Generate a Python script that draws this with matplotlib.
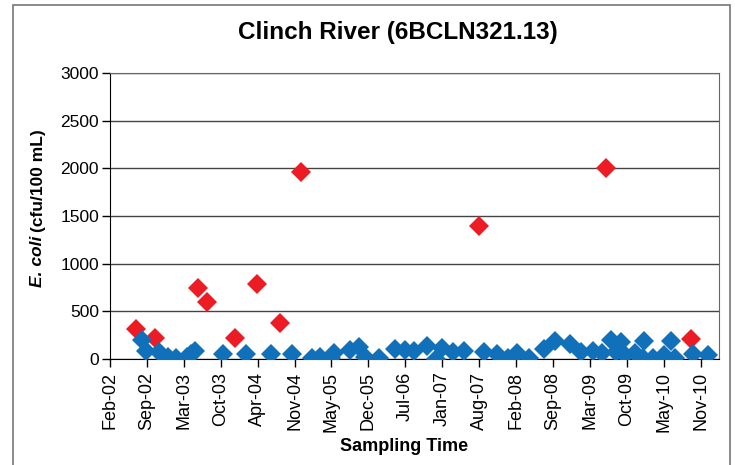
import pandas as pd
import matplotlib.pyplot as plt
from matplotlib.patches import Rectangle

# samples below / above the standard
blue_dates = ["2002-08-05", "2002-08-29", "2002-11-08", "2002-12-24", "2003-02-08",
              "2003-04-07", "2003-04-27", "2003-05-18", "2003-10-19", "2004-02-18",
              "2004-07-03", "2004-10-25", "2005-02-14", "2005-03-28", "2005-05-25",
              "2005-06-09", "2005-09-04", "2005-10-23", "2005-11-28", "2006-02-12",
              "2006-05-05", "2006-06-28", "2006-08-18", "2006-10-30", "2006-12-14",
              "2007-01-19", "2007-03-15", "2007-05-17", "2007-08-30", "2007-11-10",
              "2008-01-11", "2008-02-27", "2008-05-01", "2008-07-21", "2008-09-21",
              "2008-12-11", "2009-02-09", "2009-04-14", "2009-06-02", "2009-07-22",
              "2009-08-19", "2009-09-11", "2009-10-06", "2009-11-26", "2010-01-11",
              "2010-01-16", "2010-03-06", "2010-05-03", "2010-06-13", "2010-07-01",
              "2010-10-06", "2010-12-26"]
blue_vals = [199, 80, 70, 18, 10,
             24, 52, 84, 49, 49,
             49, 49, 7, 24, 7,
             60, 94, 129, 24, 14,
             105, 94, 87, 136, 5,
             119, 77, 87, 77, 49,
             14, 60, 14, 101, 192,
             157, 70, 87, 66, 199,
             77, 181, 42, 60, 7,
             192, 7, 42, 192, 7,
             52, 42]

red_dates = ["2002-07-02", "2002-10-15", "2003-06-05", "2003-07-21", "2003-12-22",
             "2004-04-21", "2004-08-24", "2004-12-15", "2007-08-06", "2009-06-21",
             "2010-09-25"]
red_vals = [311, 217, 748, 595, 217, 787, 374, 1965, 1400, 2000, 213]

tick_labels = ["Feb-02", "Sep-02", "Mar-03", "Oct-03", "Apr-04", "Nov-04", "May-05",
               "Dec-05", "Jul-06", "Jan-07", "Aug-07", "Feb-08", "Sep-08", "Mar-09",
               "Oct-09", "May-10", "Nov-10"]

plt.rcParams['font.family'] = ['Liberation Sans', 'DejaVu Sans']

fig = plt.figure(figsize=(7.35, 4.65), dpi=100)
ax = fig.add_axes([110 / 735, 1 - 359 / 465, 609 / 735, 286 / 465])

ax.plot(pd.to_datetime(red_dates), red_vals, 'D', color='#ED1C24', markersize=10.5,
        markeredgewidth=0, zorder=3)
ax.plot(pd.to_datetime(blue_dates), blue_vals, 'D', color='#1170BA', markersize=10.5,
        markeredgewidth=0, zorder=4)

start = pd.Timestamp("2002-02-13")
ticks = [start + pd.Timedelta(days=200 * i) for i in range(len(tick_labels))]
ax.set_xlim(start, start + pd.Timedelta(days=3300))
ax.set_xticks(ticks)
ax.set_xticklabels(tick_labels, rotation=90, fontsize=13)
ax.set_ylim(0, 3000)
ax.set_yticks(range(0, 3001, 500))
ax.tick_params(axis='y', labelsize=12.5, length=6, width=1, pad=2)
ax.tick_params(axis='x', length=6, width=1, pad=3)
ax.grid(axis='y', color='#444444', linewidth=1)
ax.set_axisbelow(True)
for s in ['top', 'right']:
    ax.spines[s].set_color('#666666')
ax.spines['left'].set_color('black')
ax.spines['bottom'].set_color('black')

fig.text(398 / 735, 1 - 33 / 465, "Clinch River (6BCLN321.13)", ha='center', va='center',
         fontsize=17.5, fontweight='bold')
fig.text(404 / 735, 1 - 446 / 465, "Sampling Time", ha='center', va='center',
         fontsize=13, fontweight='bold')

# y label: italic "E. coli" then the units
t1 = fig.text(38 / 735, 1 - 287 / 465, "E. coli", rotation=90, ha='center', va='bottom',
              fontsize=12.5, fontweight='bold', style='italic')
fig.canvas.draw()
bb = t1.get_window_extent()
fig.text(38 / 735, (bb.y1 + 4) / 465, "(cfu/100 mL)", rotation=90, ha='center',
         va='bottom', fontsize=12.5, fontweight='bold')

fig.patches.append(Rectangle((13 / 735, -0.05), 717 / 735, 1.04, transform=fig.transFigure,
                             fill=False, edgecolor='#777777', linewidth=1.2))

fig.savefig("out.png", dpi=100)
